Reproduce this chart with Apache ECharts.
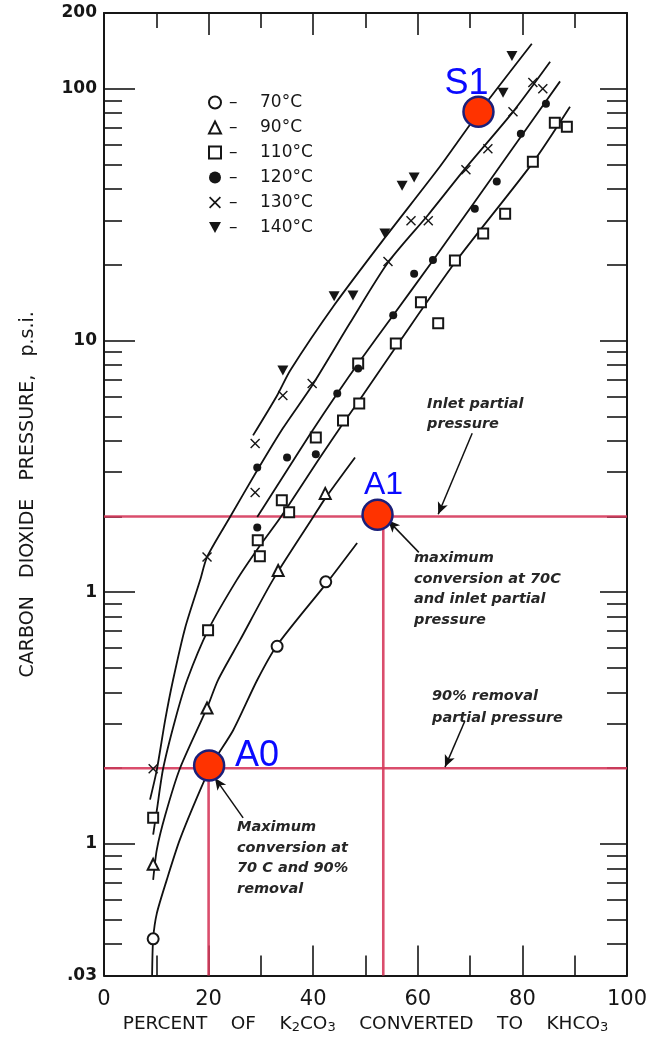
<!DOCTYPE html>
<html><head><meta charset="utf-8">
<script src="https://cdn.jsdelivr.net/npm/echarts@6/dist/echarts.min.js"></script>
<style>html,body{margin:0;padding:0;background:#fff}#c{width:658px;height:1039px}</style>
</head><body><div id="c"></div>
<script>
// ---------------- data ----------------
const tempNames = ['70°C', '90°C', '110°C', '120°C', '130°C', '140°C'];

// fitted curves (x = % K2CO3 converted, y = CO2 pressure psi)
const curve70 = [[9.2,0.030],[9.4,0.042],[10.1,0.053],[12.0,0.072],[14.5,0.104],[18.4,0.164],[20.8,0.210],[24.7,0.283],[29.3,0.448],[33.1,0.616],[42.6,1.09],[48.4,1.57]];
const curve90 = [[9.4,0.072],[10.1,0.095],[11.7,0.130],[14.5,0.199],[19.7,0.347],[21.8,0.448],[26.0,0.645],[32.3,1.12],[40.0,1.99],[42.3,2.36],[48.0,3.43]];
const curve110 = [[9.4,0.109],[10.1,0.136],[11.3,0.199],[13.6,0.311],[15.9,0.448],[19.9,0.707],[25.4,1.12],[29.5,1.50],[33.8,1.99],[41.3,3.43],[45.7,4.68],[48.8,5.78],[56.0,9.55],[67.1,20.4],[82.0,50.9],[89.1,84.8]];
const curve120 = [[29.3,1.99],[35.0,3.05],[39.4,4.24],[44.6,6.16],[49.0,8.33],[55.3,12.6],[62.9,20.8],[70.9,35.6],[79.7,64.5],[87.2,107]];
const curve130 = [[8.8,0.150],[10.1,0.197],[11.7,0.311],[13.2,0.448],[15.5,0.72],[18.4,1.12],[19.7,1.38],[24.1,1.99],[29.3,3.05],[34.2,4.48],[39.8,6.63],[47.0,11.7],[54.3,20.4],[62.0,31.6],[69.2,48.6],[78.2,81.0],[85.3,128]];
const curve140 = [[28.5,4.20],[33.1,6.05],[35.6,7.60],[44.0,13.8],[53.7,25.6],[64.2,49.0],[71.5,79.6],[81.8,151]];

// measured points
const pts70 = [[9.4,0.042],[33.1,0.61],[42.4,1.10]];
const pts90 = [[9.4,0.083],[19.7,0.347],[33.3,1.22],[42.3,2.47]];
const pts110 = [[9.4,0.127],[19.9,0.707],[29.4,1.61],[29.8,1.39],[34.0,2.32],[35.4,2.08],[40.5,4.12],[45.7,4.81],[48.8,5.62],[48.6,8.11],[55.8,9.73],[60.6,14.2],[63.9,11.7],[67.1,20.8],[72.5,26.6],[76.7,31.9],[82.0,51.3],[86.2,73.3],[88.5,70.6]];
const pts120 = [[29.3,1.81],[29.3,3.13],[35.0,3.43],[40.5,3.53],[44.6,6.16],[48.6,7.74],[55.3,12.6],[59.3,18.4],[62.9,20.9],[70.9,33.4],[75.1,42.8],[79.7,66.3],[84.5,87.2]];
const pts130 = [[9.4,0.199],[19.7,1.38],[28.9,2.49],[28.9,3.90],[34.2,6.05],[39.8,6.75],[54.3,20.6],[58.7,29.9],[62.0,29.9],[69.2,47.7],[73.4,57.8],[78.2,81.0],[82.0,106],[83.9,100]];
const pts140 = [[34.2,7.60],[44.0,15.0],[47.6,15.1],[53.7,26.6],[57.0,41.2],[59.3,44.4],[76.3,96.4],[78.0,135]];

// reference lines
const inletP = 2.0;       // inlet partial pressure
const removalP = 0.2;     // 90% removal partial pressure
const conv90 = 20;        // conversion at 70C & 90% removal
const convInlet = 53.4;   // conversion at 70C & inlet pressure

// highlighted points
const redPts = [[20.1,0.205],[52.3,2.03],[71.6,81]];
const redNames = ['A0', 'A1', 'S1'];

// annotation arrows [start, end] in data units
const arrows = [
  [[70.4,4.28],[63.9,2.04]],
  [[60.2,1.44],[54.3,1.93]],
  [[69.0,0.308],[65.2,0.202]],
  [[26.6,0.127],[21.2,0.183]]
];

// axis ticks / labels
const xEvenTicks = [20,40,60,80];
const xOddTicks = [10,30,50,70,90];
const yMajorTicks = [0.1,1,10,100];
const yMinorTicks = [0.04,0.05,0.06,0.07,0.08,0.09,0.2,0.3,0.4,0.5,0.6,0.7,0.8,0.9,2,3,4,5,6,7,8,9,20,30,40,50,60,70,80,90];
const yLabelValues = [0.03,0.1,1,10,100,200];
const yLabelTexts = ['.03','1','1','10','100','200'];

// ---------------- chart ----------------
const INK = '#161616';
const chart = echarts.init(document.getElementById('c'), null, {renderer:'canvas'});

function yFmt(v){
  const lv = Math.log10(v);
  for (let i=0;i<yLabelValues.length;i++){
    if (Math.abs(lv-Math.log10(yLabelValues[i]))<0.01) return yLabelTexts[i];
  }
  return '';
}

function xAx(pos, ticks, len, main){
  return {
    type:'value', position:pos, min:0, max:100, interval:20,
    axisLine:{show:!!main, onZero:false, lineStyle:{color:INK,width:2}},
    axisTick:{show:true, inside:true, length:len, customValues:ticks, lineStyle:{color:INK,width:1.6}},
    axisLabel:{show: pos==='bottom' && !!main, margin:13, fontFamily:'DejaVu Sans', fontSize:21, color:INK},
    splitLine:{show:false}
  };
}
function yAx(pos, ticks, len, main){
  return {
    type:'log', logBase:10, position:pos, min:0.03, max:200,
    axisLine:{show:!!main, onZero:false, lineStyle:{color:INK,width:2}},
    axisTick:{show:true, inside:true, length:len, customValues:ticks, lineStyle:{color:INK,width:1.6}},
    axisLabel:{show:false},
    minorTick:{show:false},
    splitLine:{show:false}
  };
}

const xAxes = [xAx('bottom', xEvenTicks, 30, true), xAx('bottom', xOddTicks, 20, false), xAx('top', xEvenTicks, 22, true), xAx('top', xOddTicks, 15, false)];
xAxes[0].name = '{a|PERCENT    OF    K}{b|2}{a|CO}{b|3}{a|    CONVERTED    TO    KHCO}{b|3}';
xAxes[0].nameLocation = 'middle';
xAxes[0].nameGap = 38;
xAxes[0].nameTextStyle = {fontFamily:'DejaVu Sans', fontSize:18, color:INK,
  rich:{a:{fontFamily:'DejaVu Sans', fontSize:18.5, lineHeight:20, color:INK},
        b:{fontFamily:'DejaVu Sans', fontSize:13, lineHeight:8, verticalAlign:'bottom', color:INK}}};

const yAxes = [yAx('left', yMajorTicks, 31, true), yAx('left', yMinorTicks, 18, false), yAx('right', yMajorTicks, 27, true), yAx('right', yMinorTicks, 20, false)];
yAxes[0].axisLabel = {show:true, customValues:yLabelValues, formatter:yFmt, margin:7, fontFamily:'DejaVu Sans', fontWeight:'bold', fontSize:17, color:INK};
yAxes[0].name = 'CARBON   DIOXIDE   PRESSURE,   p.s.i.';
yAxes[0].nameLocation = 'middle';
yAxes[0].nameGap = 66;
yAxes[0].nameRotate = 90;
yAxes[0].nameTextStyle = {fontFamily:'DejaVu Sans', fontSize:19, color:INK};

const curves = [curve70, curve90, curve110, curve120, curve130, curve140];
const ptsAll = [pts70, pts90, pts110, pts120, pts130, pts140];
const symbols = ['emptyCircle','emptyTriangle','emptyRect','circle',
  'path://M1,0L5,4L9,0L10,1L6,5L10,9L9,10L5,6L1,10L0,9L4,5L0,1Z',
  'path://M0,0L10,0L5,9Z'];
const symSizes = [11, 11, 10, 8, 10, [11,10]];

const series = [];
// red reference lines
const redStyle = {color:'#d63a5c', width:2.6, opacity:0.9};
[
  [[0,inletP],[100,inletP]],
  [[0,removalP],[100,removalP]],
  [[conv90,0.03],[conv90,removalP]],
  [[convInlet,0.03],[convInlet,inletP]]
].forEach((d,i)=>{
  series.push({type:'line', name:'ref'+i, data:d, showSymbol:false, symbol:'none', lineStyle:redStyle, z:1, silent:true});
});
// curves
curves.forEach((c,i)=>{
  series.push({type:'line', name:'curve'+i, data:c, smooth:0.25, showSymbol:false, symbol:'none',
    lineStyle:{color:'#111', width:1.8}, z:2, silent:true});
});
// markers
ptsAll.forEach((p,i)=>{
  series.push({type:'scatter', name:tempNames[i], data:p, symbol:symbols[i], symbolSize:symSizes[i],
    itemStyle:{color:INK, borderColor:INK, borderWidth: i<3 ? 1.4 : 0, opacity:1}, z:3});
});
// arrows
series.push({type:'line', name:'arrows', data:[], silent:true,
  markLine:{silent:true, symbol:['none','arrow'], symbolSize:[8,12], label:{show:false},
    lineStyle:{color:'#111', width:1.5, type:'solid', opacity:1},
    data: arrows.map(a=>[{coord:a[0]},{coord:a[1]}])}
});
// highlighted points
const labelOffsets = [[48,-9],[6,-30],[-12,-28]];
const labelSizes = [36, 32, 36];
series.push({type:'scatter', name:'highlight', z:10,
  data: redPts.map((p,i)=>({value:p, label:{show:true, position:'inside', offset:labelOffsets[i], fontSize:labelSizes[i],
    formatter: redNames[i]}})),
  symbol:'circle', symbolSize:30,
  itemStyle:{color:'#ff3300', borderColor:'#1b1f7a', borderWidth:2.5, opacity:1},
  label:{color:'#0a0aff', fontFamily:'Liberation Sans', align:'center', verticalAlign:'middle'}
});

const annFont = {fontFamily:'DejaVu Sans', fontStyle:'italic', fontWeight:'bold', fontSize:14.5, fill:'#262626'};
const graphic = [
  {type:'text', left:427, top:394, style:Object.assign({text:'Inlet partial\npressure', lineHeight:20}, annFont)},
  {type:'text', left:414, top:548, style:Object.assign({text:'maximum\nconversion at 70C\nand inlet partial\npressure', lineHeight:20.5}, annFont)},
  {type:'text', left:432, top:685, style:Object.assign({text:'90% removal\npartial pressure', lineHeight:22}, annFont)},
  {type:'text', left:237, top:817, style:Object.assign({text:'Maximum\nconversion at\n70 C and 90%\nremoval', lineHeight:20.5}, annFont)}
];

chart.setOption({
  animation:false,
  backgroundColor:'#fff',
  grid:{left:104, right:31, top:13, bottom:63, containLabel:false},
  xAxis:xAxes,
  yAxis:yAxes,
  legend:{
    data:tempNames, orient:'vertical', left:203, top:89, itemWidth:12, itemHeight:12, itemGap:8,
    selectedMode:false,
    formatter: n => '{d|–}{t|' + n + '}',
    textStyle:{color:INK, fontFamily:'DejaVu Sans', fontSize:17, lineHeight:14,
      rich:{d:{width:31, fontSize:17, lineHeight:14, padding:[0,0,0,3]}, t:{fontSize:17, lineHeight:14}}}
  },
  series:series,
  graphic:graphic
});
</script></body></html>
